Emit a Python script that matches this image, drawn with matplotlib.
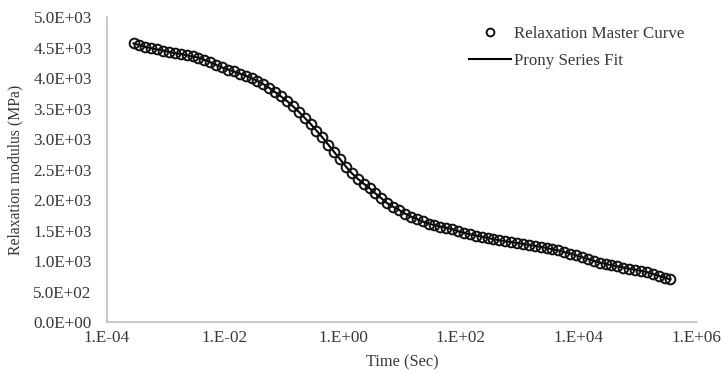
import math
import matplotlib.pyplot as plt
from matplotlib.ticker import FixedLocator, FuncFormatter, MultipleLocator

plt.rcParams['font.family'] = ['Liberation Serif', 'DejaVu Serif']

# log10 of time (s) and relaxation modulus (MPa)
log_time = [-3.55, -3.45, -3.35, -3.25, -3.15, -3.05, -2.95, -2.85, -2.75, -2.65,
            -2.55, -2.45, -2.35, -2.25, -2.15, -2.05, -1.95, -1.85, -1.75, -1.65,
            -1.55, -1.45, -1.35, -1.25, -1.15, -1.05, -0.95, -0.85, -0.75, -0.65,
            -0.55, -0.45, -0.35, -0.25, -0.15, -0.05, 0.05, 0.15, 0.25, 0.35,
            0.45, 0.55, 0.65, 0.75, 0.85, 0.95, 1.05, 1.15, 1.25, 1.35,
            1.45, 1.55, 1.65, 1.75, 1.85, 1.95, 2.05, 2.15, 2.25, 2.35,
            2.45, 2.55, 2.65, 2.75, 2.85, 2.95, 3.05, 3.15, 3.25, 3.35,
            3.45, 3.55, 3.65, 3.75, 3.85, 3.95, 4.05, 4.15, 4.25, 4.35,
            4.45, 4.55, 4.65, 4.75, 4.85, 4.95, 5.05, 5.15, 5.25, 5.35,
            5.45, 5.55]
modulus = [4570, 4540, 4510, 4490, 4470, 4450, 4430, 4410, 4395, 4375,
           4355, 4335, 4300, 4260, 4215, 4175, 4140, 4110, 4075, 4040,
           4000, 3955, 3900, 3840, 3770, 3700, 3625, 3540, 3450, 3350,
           3250, 3140, 3030, 2910, 2790, 2670, 2550, 2440, 2350, 2270,
           2195, 2110, 2030, 1950, 1890, 1840, 1780, 1730, 1690, 1650,
           1615, 1590, 1565, 1545, 1525, 1490, 1465, 1440, 1420, 1400,
           1380, 1360, 1342, 1327, 1312, 1297, 1282, 1266, 1250, 1233,
           1215, 1195, 1175, 1150, 1125, 1095, 1065, 1035, 1005, 975,
           955, 935, 915, 895, 875, 860, 840, 820, 790, 760,
           730, 700]

time = [10 ** v for v in log_time]
text_col = '#383838'

fig = plt.figure(figsize=(7.23, 3.72), dpi=100)
ax = fig.add_axes([0.148, 0.134, 0.816, 0.82])

ax.plot(time, modulus, color='black', lw=1.5, label='Prony Series Fit', zorder=2)
ax.plot(time, modulus, ls='none', marker='o', ms=7, mfc='none', mec='#111111',
        mew=1.4, label='Relaxation Master Curve', zorder=3)

ax.set_xscale('log')
ax.set_xlim(1e-4, 1e6)
ax.set_ylim(0, 5000)
ax.xaxis.set_major_locator(FixedLocator([1e-4, 1e-2, 1e0, 1e2, 1e4, 1e6]))
ax.xaxis.set_minor_locator(FixedLocator([]))
ax.xaxis.set_major_formatter(FuncFormatter(lambda v, p: '1.E%+03d' % round(math.log10(v))))
ax.yaxis.set_major_locator(MultipleLocator(500))
ax.yaxis.set_major_formatter(FuncFormatter(lambda v, p: '%.1E' % v))
ax.tick_params(length=0, labelsize=12.3, colors=text_col)
ax.tick_params(axis='y', pad=11)
ax.tick_params(axis='x', pad=6)

for s in ['top', 'right']:
    ax.spines[s].set_visible(False)
for s in ['left', 'bottom']:
    ax.spines[s].set_color('#bfbfbf')
    ax.spines[s].set_linewidth(1.2)

ax.set_xlabel('Time (Sec)', fontsize=11.8, color=text_col)
ax.set_ylabel('Relaxation modulus (MPa)', fontsize=11.3, color=text_col)
ax.xaxis.set_label_coords(0.5, -0.105)
ax.yaxis.set_label_coords(-0.142, 0.5)

h, l = ax.get_legend_handles_labels()
leg = ax.legend(h[::-1], l[::-1], loc='upper right', frameon=False, fontsize=12.2,
                handlelength=2.5, handletextpad=0.2, labelspacing=0.62,
                markerscale=0.8, bbox_to_anchor=(1.005, 1.02))
for t in leg.get_texts():
    t.set_color(text_col)

plt.savefig('out.png', dpi=100)
